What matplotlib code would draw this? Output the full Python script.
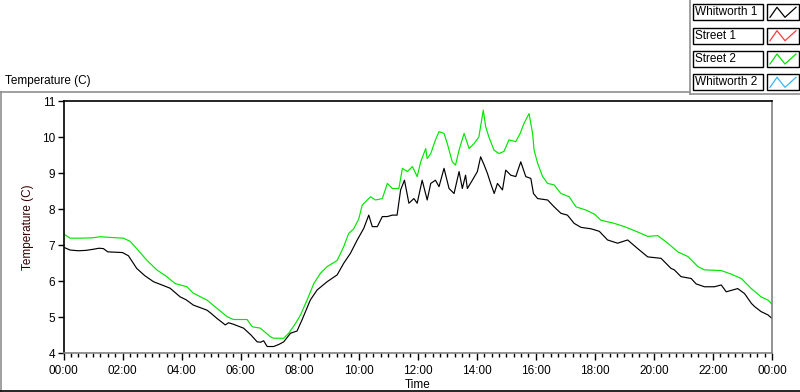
import matplotlib
matplotlib.use("Agg")
import matplotlib.pyplot as plt
from matplotlib.lines import Line2D
from matplotlib.patches import Rectangle
from matplotlib.ticker import MultipleLocator, FuncFormatter

plt.rcParams['font.family'] = ['Liberation Sans', 'DejaVu Sans']

# ---- data ----
whitworth1_hours = [0.0, 0.22, 0.5, 0.75, 1.0, 1.2, 1.35, 1.5, 2.0, 2.2, 2.48, 2.75, 3.05, 3.3, 3.61,
                    3.95, 4.15, 4.40, 4.6, 4.86, 5.0, 5.2, 5.48, 5.59, 5.75, 6.1, 6.35, 6.56, 6.68,
                    6.78, 6.9, 7.12, 7.3, 7.46, 7.69, 7.91, 8.08, 8.36, 8.59, 8.93, 9.27, 9.49, 9.72,
                    9.95, 10.17, 10.34, 10.46, 10.63, 10.8, 10.97, 11.14, 11.3, 11.42, 11.55, 11.7,
                    11.87, 11.98, 12.15, 12.32, 12.44, 12.6, 12.72, 12.89, 13.06, 13.23, 13.4, 13.51,
                    13.62, 13.68, 13.85, 14.02, 14.13, 14.25, 14.36, 14.47, 14.59, 14.7, 14.87, 14.98,
                    15.15, 15.32, 15.49, 15.66, 15.83, 15.92, 16.06, 16.4, 16.62, 16.85, 17.07, 17.3,
                    17.53, 17.87, 18.15, 18.43, 18.77, 19.11, 19.45, 19.79, 20.24, 20.58, 20.69, 20.92,
                    21.26, 21.43, 21.71, 22.05, 22.28, 22.45, 22.84, 23.07, 23.3, 23.41, 23.63, 23.86, 24.0]
whitworth1_temp = [6.94, 6.86, 6.84, 6.85, 6.88, 6.91, 6.90, 6.81, 6.79, 6.70, 6.35, 6.15, 5.98, 5.90, 5.80,
                   5.56, 5.48, 5.33, 5.27, 5.19, 5.10, 4.96, 4.78, 4.84, 4.80, 4.69, 4.50, 4.31, 4.30,
                   4.34, 4.18, 4.18, 4.24, 4.31, 4.55, 4.61, 4.92, 5.47, 5.75, 5.98, 6.17, 6.49, 6.77,
                   7.14, 7.46, 7.83, 7.51, 7.51, 7.79, 7.79, 7.83, 7.83, 8.53, 8.80, 8.16,
                   8.29, 8.16, 8.80, 8.25, 8.71, 8.80, 8.62, 9.13, 8.57, 8.43, 9.04, 8.57,
                   8.94, 8.57, 8.80, 9.04, 9.45, 9.22, 8.99, 8.71, 8.43, 8.71, 8.53, 9.08,
                   8.94, 8.90, 9.31, 8.90, 8.85, 8.43, 8.29, 8.25, 8.06, 7.88, 7.83, 7.60,
                   7.49, 7.45, 7.38, 7.14, 7.05, 7.14, 6.90, 6.67, 6.63, 6.35, 6.31, 6.12,
                   6.07, 5.92, 5.84, 5.84, 5.89, 5.70, 5.79, 5.65, 5.38, 5.29, 5.15, 5.06, 4.96]

street2_hours = [0.0, 0.22, 0.6, 1.0, 1.24, 1.6, 2.03, 2.26, 2.48, 2.82, 3.16, 3.5, 3.78, 4.18, 4.4,
                 4.86, 5.2, 5.54, 5.76, 6.22, 6.39, 6.67, 7.01, 7.12, 7.46, 7.63, 7.86, 8.03, 8.25,
                 8.48, 8.7, 8.93, 9.27, 9.49, 9.66, 9.83, 10.0, 10.12, 10.4, 10.57, 10.8, 10.97,
                 11.14, 11.36, 11.48, 11.65, 11.82, 11.98, 12.1, 12.27, 12.32, 12.44, 12.6, 12.72,
                 12.89, 13.0, 13.17, 13.28, 13.4, 13.57, 13.74, 13.91, 14.07, 14.22, 14.3, 14.41,
                 14.58, 14.75, 14.92, 15.09, 15.32, 15.47, 15.6, 15.77, 15.89, 15.94, 16.06, 16.23,
                 16.4, 16.62, 16.85, 17.13, 17.36, 17.7, 18.0, 18.2, 18.66, 19.0, 19.34, 19.79,
                 20.13, 20.47, 20.81, 21.15, 21.49, 21.71, 22.28, 22.62, 22.96, 23.3, 23.63, 23.86, 24.0]
street2_temp = [7.31, 7.19, 7.19, 7.20, 7.23, 7.21, 7.19, 7.10, 6.90, 6.58, 6.31, 6.12, 5.93, 5.84, 5.66,
                5.47, 5.24, 5.01, 4.93, 4.93, 4.73, 4.69, 4.45, 4.41, 4.41, 4.55, 4.82, 5.06, 5.47,
                5.93, 6.21, 6.40, 6.57, 6.95, 7.32, 7.45, 7.72, 8.11, 8.34, 8.25, 8.29, 8.71,
                8.57, 8.57, 9.13, 9.04, 9.18, 8.90, 9.31, 9.68, 9.40, 9.54, 9.92, 10.15,
                10.10, 9.82, 9.31, 9.22, 9.64, 10.10, 9.68, 9.82, 10.00, 10.75, 10.29, 10.00,
                9.64, 9.54, 9.60, 9.92, 9.87, 10.10, 10.38, 10.65, 10.10, 9.64, 9.27, 8.90,
                8.71, 8.67, 8.43, 8.34, 8.06, 7.97, 7.85, 7.69, 7.60, 7.51, 7.40, 7.24,
                7.26, 7.05, 6.81, 6.68, 6.40, 6.31, 6.29, 6.19, 6.07, 5.79, 5.56, 5.47, 5.36]

legend_names = ["Whitworth 1", "Street 1", "Street 2", "Whitworth 2"]
legend_colors = ["#000000", "#ff3b3b", "#00e600", "#33b5ff"]
x_tick_hours = list(range(0, 25, 2))
y_ticks = [4, 5, 6, 7, 8, 9, 10, 11]

W, H = 800, 392
fig = plt.figure(figsize=(W / 100, H / 100), dpi=100)
fig.patch.set_facecolor('white')

def fx(x):
    return x / W

def fy(y):
    return 1 - y / H

FS = 8.5
ax = fig.add_axes([fx(63.5), fy(353), fx(772) - fx(63.5), fy(101) - fy(353)])
ax.plot(street2_hours, street2_temp, color=legend_colors[2], lw=0.85)
ax.plot(whitworth1_hours, whitworth1_temp, color=legend_colors[0], lw=0.85)
ax.set_xlim(0, 24)
ax.set_ylim(4, 11)
ax.set_xticks(x_tick_hours)
ax.xaxis.set_major_formatter(FuncFormatter(lambda v, p: f"{int(round(v)) % 24:02d}:00"))
ax.xaxis.set_minor_locator(MultipleLocator(0.25))
ax.set_yticks(y_ticks)
ax.tick_params(axis='both', which='major', labelsize=FS, length=4, width=1, direction='out', color='black')
ax.tick_params(axis='x', which='major', pad=4, length=5)
ax.tick_params(axis='x', which='minor', length=3, width=1)
ax.tick_params(axis='y', which='major', pad=2)
ax.spines['left'].set_color('black')
ax.spines['top'].set_color('black')
ax.spines['bottom'].set_color('#808080')
ax.spines['right'].set_color('#808080')
for s in ax.spines.values():
    s.set_linewidth(1.2)
ax.set_xlabel("Time", fontsize=FS, labelpad=1)
ax.set_ylabel("Temperature (C)", fontsize=FS, color='#330000', labelpad=6)

# panel decorations
fig.add_artist(Line2D([fx(0), fx(690)], [fy(92), fy(92)], color='#909090', lw=1.2))
fig.add_artist(Line2D([fx(1), fx(1)], [fy(92), fy(391)], color='#909090', lw=1.2))
fig.add_artist(Line2D([fx(0), fx(800)], [fy(390.5), fy(390.5)], color='black', lw=1.2))
fig.add_artist(Line2D([fx(690), fx(690)], [fy(0), fy(94)], color='#909090', lw=1.2))
fig.add_artist(Line2D([fx(690), fx(800)], [fy(94), fy(94)], color='#909090', lw=1.2))
fig.text(fx(5), fy(81), "Temperature (C)", fontsize=FS, ha='left', va='center')

# legend
row_tops = [4.3, 27.7, 51.0, 74.3]
rh = 16.0
for name, col, top in zip(legend_names, legend_colors, row_tops):
    fig.add_artist(Rectangle((fx(692.7), fy(top + rh)), fx(762.7) - fx(692.7), rh / H,
                             facecolor='white', edgecolor='black', lw=1.0, transform=fig.transFigure))
    fig.text(fx(695), fy(top + rh / 2), name, fontsize=FS, ha='left', va='center')
    fig.add_artist(Rectangle((fx(766.7), fy(top + rh)), fx(799) - fx(766.7), rh / H,
                             facecolor='white', edgecolor='black', lw=1.0, transform=fig.transFigure))
    zx = [770, 777, 785, 796]
    zy = [top + 13, top + 3, top + 13, top + 3]
    fig.add_artist(Line2D([fx(v) for v in zx], [fy(v) for v in zy], color=col, lw=0.9))

fig.savefig("out.png", dpi=100, facecolor='white')
